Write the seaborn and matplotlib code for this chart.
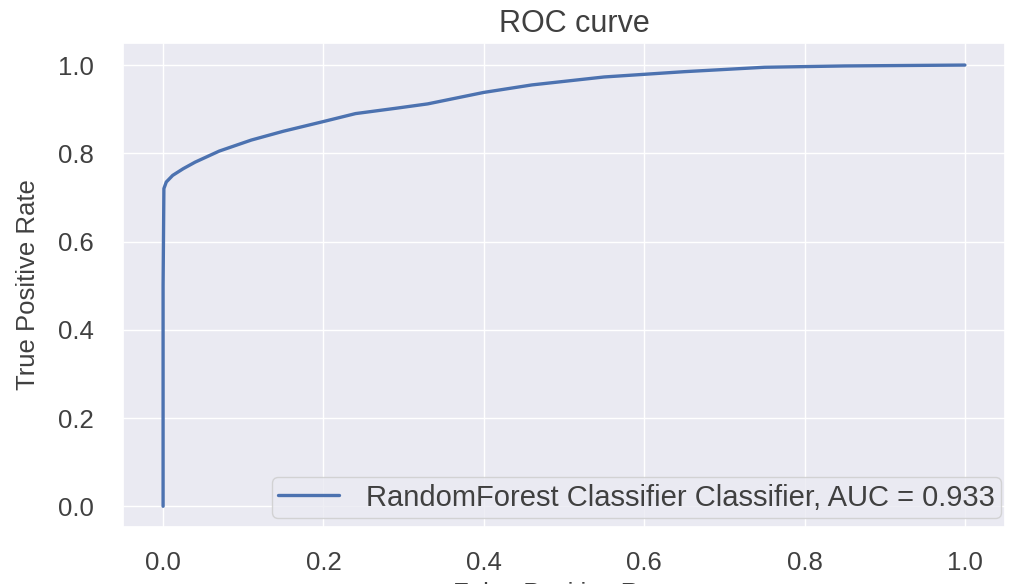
import matplotlib
matplotlib.use("Agg")
import matplotlib.pyplot as plt
import seaborn as sns
import pandas as pd

# Data
fpr = [0.0, 0.0, 0.001, 0.004, 0.012, 0.025, 0.04, 0.07, 0.11, 0.15, 0.20,
       0.24, 0.29, 0.33, 0.40, 0.46, 0.55, 0.65, 0.75, 0.85, 1.0]
tpr = [0.0, 0.50, 0.72, 0.735, 0.750, 0.765, 0.780, 0.805, 0.830, 0.850, 0.872,
       0.890, 0.902, 0.912, 0.938, 0.955, 0.973, 0.985, 0.995, 0.998, 1.0]
model_name = "RandomForest Classifier Classifier"
auc_value = 0.933
x_ticks = [0.0, 0.2, 0.4, 0.6, 0.8, 1.0]
y_ticks = [0.0, 0.2, 0.4, 0.6, 0.8, 1.0]

sns.set_theme(style="darkgrid")
plt.rcParams['font.family'] = ['Liberation Sans', 'DejaVu Sans']

df = pd.DataFrame({"fpr": fpr, "tpr": tpr})
label = f"{model_name}, AUC = {auc_value:.3f}"

fig = plt.figure(figsize=(10.15, 5.84), dpi=100)
W, H = 1015, 584
ax_l, ax_r, ax_t, ax_b = 123, 1005, 43, 527
ax = fig.add_axes([ax_l / W, 1 - ax_b / H, (ax_r - ax_l) / W, (ax_b - ax_t) / H])

sns.lineplot(data=df, x="fpr", y="tpr", sort=False, estimator=None,
             color="#4c72b0", linewidth=2.4, label=label, ax=ax)

ax.set_xlim(-0.05, 1.05)
ax.set_ylim(-0.047, 1.05)
ax.set_xticks(x_ticks)
ax.set_yticks(y_ticks)
ax.set_xticklabels([f"{v:.1f}" for v in x_ticks])
ax.set_yticklabels([f"{v:.1f}" for v in y_ticks])
ax.tick_params(axis="both", labelsize=18.5, colors="#404040")
ax.tick_params(axis="x", pad=11)
ax.tick_params(axis="y", pad=15)

ax.set_title("ROC curve", fontsize=22, color="#404040", pad=8, x=0.512)
ax.set_xlabel("False Positive Rate", fontsize=18.5, color="#404040", labelpad=5)
ax.set_ylabel("True Positive Rate", fontsize=18.5, color="#404040", labelpad=13)

leg = ax.legend(loc="lower right", fontsize=21, frameon=True,
                handlelength=2.1, handletextpad=0.9, borderpad=0.22,
                borderaxespad=0,
                bbox_to_anchor=(1 - 4 / (ax_r - ax_l), 9 / (ax_b - ax_t)))
for text in leg.get_texts():
    text.set_color("#404040")
for line in leg.get_lines():
    line.set_linewidth(2.4)

fig.savefig("out.png", dpi=100)
